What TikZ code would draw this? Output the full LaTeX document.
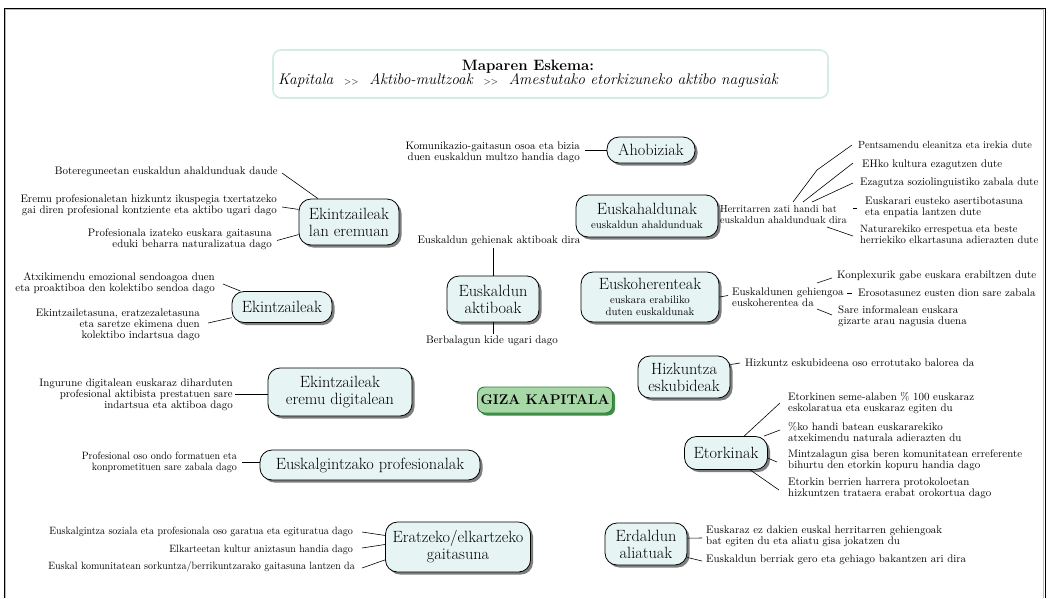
\documentclass[tikz,border=0pt]{standalone}
\usepackage{fontspec}
\usepackage{graphicx}
\usetikzlibrary{shadows,backgrounds,calc}
\definecolor{nodefill}{HTML}{E6F4F3}
\definecolor{linkpurple}{HTML}{7A2B8C}
\definecolor{shadowgray}{HTML}{7E7E7E}
\definecolor{mint}{HTML}{D3ECE6}
\definecolor{gizafill}{HTML}{A8D8A8}
\definecolor{gizadraw}{HTML}{2F7D3A}
\definecolor{gizashadow}{HTML}{3E8E47}
\newcommand{\notefont}{\fontsize{10.9}{11}\selectfont}
\newcommand{\bigfont}{\fontsize{16.3}{17}\selectfont}
\newcommand{\smallsub}{\fontsize{10.8}{11.2}\selectfont}
\newcommand{\narrowtxt}[1]{\scalebox{0.945}[1]{\begin{tabular}{@{}r@{}}#1\end{tabular}}}
\begin{document}
\begin{tikzpicture}[x=1pt,y=-1pt,
  mainnode/.style={draw=black, line width=0.8pt, fill=nodefill, rounded corners=12pt,
    align=center, inner sep=1pt, font=\bigfont,
    drop shadow={shadow xshift=2.5pt, shadow yshift=-2.5pt, fill=shadowgray, opacity=1}},
  gizanode/.style={draw=gizadraw, line width=0.9pt, fill=gizafill, rounded corners=7pt,
    align=center, inner sep=1pt, font=\fontsize{14}{15}\selectfont\bfseries,
    drop shadow={shadow xshift=2.5pt, shadow yshift=-2.5pt, fill=gizashadow, opacity=1}},
  titlebox/.style={draw=mint, line width=1.6pt, fill=white, rounded corners=8pt, inner sep=0pt},
  note/.style={inner sep=0pt, font=\notefont},
  noteR/.style={note, anchor=east, align=right},
  noteL/.style={note, anchor=west, align=left},
  link/.style={draw=linkpurple, line width=2.4pt},
  tick/.style={draw=black, line width=0.6pt}
]
\useasboundingbox (0,0) rectangle (1050,598);
\fill[white] (0,0) rectangle (1050,598);
% frame
\draw[black, line width=0.6pt] (4,598) -- (4,8) -- (1045,8) -- (1045,598);
\draw[gray!55, line width=1.2pt] (5.5,598) -- (5.5,9.6) -- (1043.5,9.6) -- (1043.5,598);

% title
\node[titlebox, minimum width=555, minimum height=48] (title) at (550.5,74) {};
\node[align=center, inner sep=0pt] (titletext) at (528,74)
  {\fontsize{15}{17}\selectfont\bfseries Maparen Eskema:\\[-1pt]
   \fontsize{15.4}{17}\selectfont\mdseries\itshape Kapitala \ \textup{\small >{}>} \ Aktibo-multzoak \ \textup{\small >{}>} \ Amestutako etorkizuneko aktibo nagusiak};

% main nodes
\node[mainnode, minimum width=88, minimum height=26] (ahob) at (651,150) {Ahobiziak};
\node[mainnode, minimum width=142, minimum height=42] (euskah) at (647,216) {Euskahaldunak\\[-3pt]\smallsub euskaldun ahaldunduak};
\node[mainnode, minimum width=138, minimum height=50] (euskoh) at (650,297) {Euskoherenteak\\[-3pt]\smallsub euskara erabiliko\\[-5pt]\smallsub duten euskaldunak};
\node[mainnode, minimum width=92, minimum height=46] (euskakt) at (493,299) {Euskaldun\\aktiboak};
\node[mainnode, minimum width=100, minimum height=46] (eklan) at (349,222) {Ekintzaileak\\lan eremuan};
\node[mainnode, minimum width=100, minimum height=31] (ekin) at (282,307) {Ekintzaileak};
\node[mainnode, minimum width=144, minimum height=48] (ekdig) at (340,392) {Ekintzaileak\\eremu digitalean};
\node[gizanode, minimum width=135, minimum height=26] (giza) at (545,400) {GIZA KAPITALA};
\node[mainnode, minimum width=92, minimum height=42] (hizk) at (684,377) {Hizkuntza\\eskubideak};
\node[mainnode, minimum width=83, minimum height=33] (etork) at (726,453) {Etorkinak};
\node[mainnode, minimum width=82, minimum height=42] (erdald) at (646,544) {Erdaldun\\aliatuak};
\node[mainnode, minimum width=145, minimum height=50] (eratz) at (458,547) {Eratzeko/elkartzeko\\gaitasuna};
\node[mainnode, minimum width=220, minimum height=30] (euskalg) at (370,465) {Euskalgintzako profesionalak};

% purple links
\begin{scope}[on background layer]
\draw[link] (ahob) -- (euskah);
\draw[link] (euskah) -- (euskoh);
\draw[link] (euskoh) -- (euskakt);
\draw[link] (euskakt) -- (eklan);
\draw[link] (euskakt) -- (ekdig);
\draw[link] (eklan) -- (ekin);
\draw[link] (eklan.south) -- (eklan.south |- ekdig.north);
\draw[link] (ekin) -- (ekdig);
\draw[link] (hizk) -- (etork);
\draw[link] (etork) -- (erdald);
\draw[link] (erdald) -- (eratz);
\draw[link] (eratz) -- (euskalg);
\end{scope}

% annotations: Ekintzaileak lan eremuan
\node[noteR] (abot) at (278,172) {Botereguneetan euskaldun ahaldunduak daude};
\node[noteR] (aerem) at (277,205) {Eremu profesionaletan hizkuntz ikuspegia txertatzeko\\gai diren profesional kontziente eta aktibo ugari dago};
\node[noteR] (aprof) at (272,239.5) {Profesionala izateko euskara gaitasuna\\eduki beharra naturalizatua dago};
\draw[tick] ($(abot.east)+(4,1)$) -- (eklan.143);
\draw[tick] ($(aerem.east)+(5,2)$) -- (eklan.166);
\draw[tick] ($(aprof.east)+(5,1)$) -- (eklan.194);

% Ekintzaileak
\node[noteR] (aatx) at (215,283) {Atxikimendu emozional sendoagoa duen\\eta proaktiboa den kolektibo sendoa dago};
\node[noteR] (aekn) at (200,324.5) {Ekintzailetasuna, eratzezaletasuna\\eta saretze ekimena duen\\kolektibo indartsua dago};
\draw[tick] ($(aatx.east)+(8,1)$) -- (ekin.159);
\draw[tick] ($(aekn.east)+(8,-1.5)$) -- (ekin.192);

% Ekintzaileak eremu digitalean
\node[noteR] (aing) at (233,394.7) {Ingurune digitalean euskaraz diharduten\\profesional aktibista prestatuen sare\\indartsua eta aktiboa dago};
\draw[tick] ($(aing.east)+(2,0)$) -- ($(aing.east -| ekdig.west)$);

% Ahobiziak
\node[noteR] (akom) at (580,152.5) {Komunikazio-gaitasun osoa eta bizia\\duen euskaldun multzo handia dago};
\draw[tick] ($(akom.east)+(5,-2.5)$) -- (ahob.west);

% Euskaldun aktiboak
\node[note] (agehi) at (499,241) {Euskaldun gehienak aktiboak dira};
\node[note] (aberb) at (492,341) {Berbalagun kide ugari dago};
\draw[tick] (euskakt.north) -- ($(euskakt.north |- agehi.south)+(0,2)$);
\draw[tick] (euskakt.south) -- ($(euskakt.south |- aberb.north)+(0,-2)$);

% Euskahaldunak
\node[noteL, font=\fontsize{10.2}{11}\selectfont] (aherr) at (720,215) {Herritarren zati handi bat\\euskaldun ahaldunduak dira};
\node[noteL, font=\fontsize{10.4}{11}\selectfont] (apents) at (858,145) {Pentsamendu eleanitza eta irekia dute};
\node[noteL] (aehko) at (862,165) {EHko kultura ezagutzen dute};
\node[noteL] (aezag) at (860,183) {Ezagutza soziolinguistiko zabala dute};
\node[noteL] (aeusk) at (865,207.5) {Euskarari eusteko asertibotasuna\\eta enpatia lantzen dute};
\node[noteL, font=\fontsize{10.6}{11}\selectfont] (anatur) at (860,234.5) {Naturarekiko errespetua eta beste\\herriekiko elkartasuna adierazten dute};
\coordinate (h1) at (793,202);
\coordinate (h2) at (803,202);
\coordinate (h3) at (812,202);
\coordinate (h5) at (827,227);
\draw[tick] (h1) -- (817,170) -- ($(apents.west)+(-6,0)$);
\draw[tick] (h2) -- ($(aehko.west)+(-9,-2)$);
\draw[tick] (h3) -- ($(aezag.west)+(-7,0)$);
\draw[tick] ($(aeusk.west)+(-12,0.5)$) -- ($(aeusk.west)+(-8,0.5)$);
\draw[tick] (h5) -- ($(anatur.west)+(-7,1.5)$);

% Euskoherenteak
\node[noteL] (aegeh) at (732,297.5) {Euskaldunen gehiengoa\\euskoherentea da};
\node[noteL] (akonp) at (837,276) {Konplexurik gabe euskara erabiltzen dute};
\node[noteL] (aeros) at (858,293) {Erosotasunez eusten dion sare zabala};
\node[noteL] (asare) at (838,316.5) {Sare informalean euskara\\gizarte arau nagusia duena};
\coordinate (g1) at (817,283);
\coordinate (g2) at (847,293);
\coordinate (g3) at (817,309);
\draw[tick] (euskoh.east) -- ($(aegeh.west)+(-4,-2)$);
\draw[tick] (g1) -- ($(akonp.west)+(-5,2)$);
\draw[tick] (g2) -- ($(aeros.west)+(-6,0)$);
\draw[tick] (g3) -- ($(asare.west)+(-6,-1.5)$);

% Hizkuntza eskubideak
\node[noteL] (ahizk) at (745,363) {Hizkuntz eskubideena oso errotutako balorea da};
\draw[tick] (hizk.15) -- ($(ahizk.west)+(-5,0)$);

% Etorkinak
\node[noteL] (aetk1) at (788,403) {Etorkinen seme-alaben \% 100 euskaraz\\eskolaratua eta euskaraz egiten du};
\node[noteL] (aetk2) at (788,432) {\%ko handi batean euskararekiko\\atxekimendu naturala adierazten du};
\node[noteL] (aetk3) at (788,460.5) {Mintzalagun gisa beren komunitatean erreferente\\bihurtu den etorkin kopuru handia dago};
\node[noteL] (aetk4) at (788,488) {Etorkin berrien harrera protokoloetan\\hizkuntzen trataera erabat orokortua dago};
\draw[tick] (etork.43) -- ($(aetk1.west)+(-8,0)$);
\draw[tick] (etork.24) -- ($(aetk2.west)+(-8,-2)$);
\draw[tick] (etork.-7) -- ($(aetk3.west)+(-11,1.5)$);
\draw[tick] (etork.-35) -- ($(aetk4.west)+(-9,2)$);

% Erdaldun aliatuak
\node[noteL] (aerd1) at (706,536.5) {Euskaraz ez dakien euskal herritarren gehiengoak\\bat egiten du eta aliatu gisa jokatzen du};
\node[noteL] (aerd2) at (706,560) {Euskaldun berriak gero eta gehiago bakantzen ari dira};
\draw[tick] (erdald.8) -- ($(aerd1.west)+(-4,1.5)$);
\draw[tick] (erdald.-18) -- ($(aerd2.west)+(-4,1)$);

% Euskalgintzako profesionalak
\node[noteR, font=\fontsize{10.6}{11}\selectfont] (apro2) at (237,462.5) {\narrowtxt{Profesional oso ondo formatuen eta\\konprometituen sare zabala dago}};
\draw[tick] ($(apro2.east)+(5,0)$) -- ($(apro2.east -| euskalg.west)$);

% Eratzeko/elkartzeko gaitasuna
\node[noteR, font=\fontsize{10.6}{11}\selectfont] (aeg1) at (353,532) {\narrowtxt{Euskalgintza soziala eta profesionala oso garatua eta egituratua dago}};
\node[noteR, font=\fontsize{10.6}{11}\selectfont] (aeg2) at (353,550) {\narrowtxt{Elkarteetan kultur aniztasun handia dago}};
\node[noteR, font=\fontsize{10.6}{11}\selectfont] (aeg3) at (355,567) {\narrowtxt{Euskal komunitatean sorkuntza/berrikuntzarako gaitasuna lantzen da}};
\draw[tick] ($(aeg1.east)+(9,0)$) -- (eratz.171);
\draw[tick] ($(aeg2.east)+(9,-2)$) -- (eratz.178);
\draw[tick] ($(aeg3.east)+(7,1)$) -- (eratz.190);
\end{tikzpicture}
\end{document}
